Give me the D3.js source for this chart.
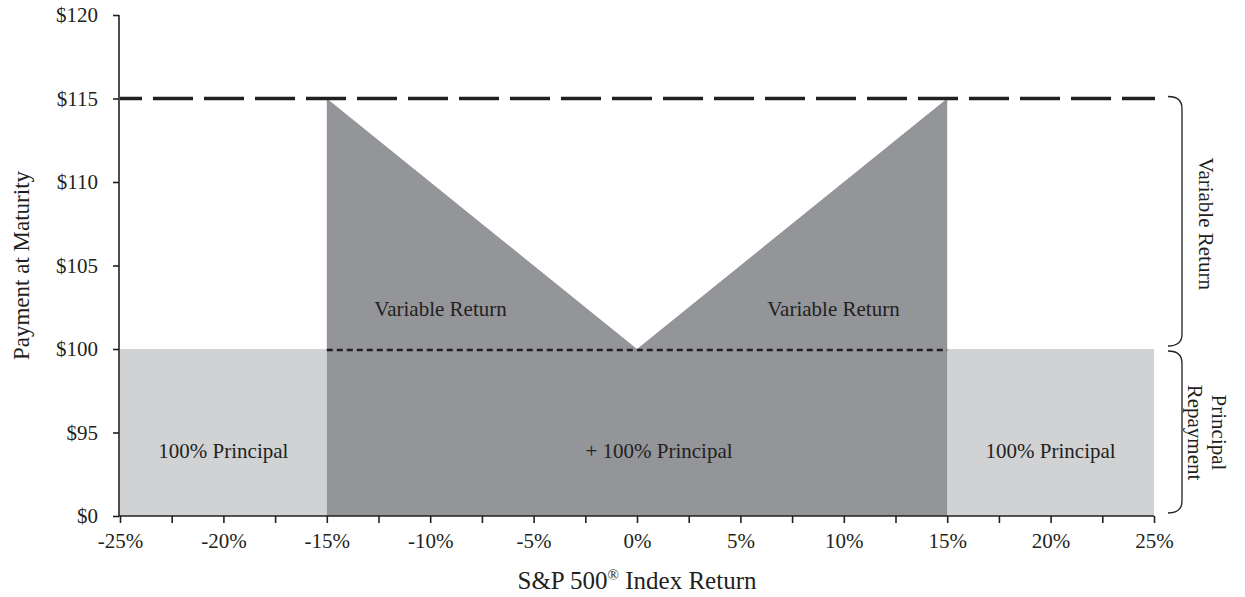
<!DOCTYPE html>
<html>
<head>
<meta charset="utf-8">
<script src="https://cdn.jsdelivr.net/npm/d3@7"></script>
<style>
  body { margin: 0; background: #fff; }
  text { font-family: "Liberation Serif", "Times New Roman", serif; fill: #231f20; }
</style>
</head>
<body>
<div id="chart"></div>
<script>
// chart values
var xLabelTicks = [-25, -20, -15, -10, -5, 0, 5, 10, 15, 20, 25]
var xMinorTicks = [-22.5, -17.5, -12.5, -7.5, -2.5, 2.5, 7.5, 12.5, 17.5, 22.5]
var yTickValues = [90, 95, 100, 105, 110, 115, 120]   // 90 stands for the broken $0 tick
var yTickLabels = ["$0", "$95", "$100", "$105", "$110", "$115", "$120"]
var principalLevel = 100
var capLevel = 115
var floorLevel = 90
// light grey principal-only zones
var principalZones = [
  { x0: -25, x1: -15, label: "100% Principal" },
  { x0: 15, x1: 25, label: "100% Principal" }
]
// payoff outline of the dark zone (index return, payment)
var payoffReturns = [-15, 0, 15]
var payoffValues = [115, 100, 115]
var varLabels = [{ x: -9.5, text: "Variable Return" }, { x: 9.5, text: "Variable Return" }]

var width = 1245
var height = 597
var mLeft = 120, mRight = 1154, mTop = 15, mBottom = 516
var fs = "21px"

var svg = d3.select("#chart")
  .append("svg")
    .attr("width", width)
    .attr("height", height)

var x = d3.scaleLinear().domain([-25, 25]).range([mLeft, mRight])
var y = d3.scaleLinear().domain([90, 120]).range([mBottom, mTop])

// light zones
svg.selectAll(".zone")
  .data(principalZones)
  .enter()
  .append("rect")
    .attr("x", function(d){ return x(d.x0) })
    .attr("width", function(d){ return x(d.x1) - x(d.x0) })
    .attr("y", y(principalLevel))
    .attr("height", y(floorLevel) - y(principalLevel))
    .style("fill", "#d1d2d4")

// dark V zone
var pts = payoffReturns.map(function(r, i){ return [x(r), y(payoffValues[i])] })
pts.push([x(payoffReturns[payoffReturns.length - 1]), y(floorLevel)])
pts.push([x(payoffReturns[0]), y(floorLevel)])
svg.append("path")
  .attr("d", d3.line()(pts) + "Z")
  .style("fill", "#939598")

// dashed lines
svg.append("line")
  .attr("x1", x(-25)).attr("x2", x(25) + 1)
  .attr("y1", y(capLevel)).attr("y2", y(capLevel))
  .attr("stroke", "#231f20")
  .attr("stroke-width", 3.5)
  .attr("stroke-dasharray", "40 11")
  .attr("stroke-dashoffset", 18)

svg.append("line")
  .attr("x1", x(-15)).attr("x2", x(15))
  .attr("y1", y(principalLevel) + 1).attr("y2", y(principalLevel) + 1)
  .attr("stroke", "#231f20")
  .attr("stroke-width", 2.5)
  .attr("stroke-dasharray", "6 4")

// zone labels
svg.selectAll(".plabel")
  .data(principalZones)
  .enter()
  .append("text")
    .attr("x", function(d){ return x((d.x0 + d.x1) / 2) })
    .attr("y", 458)
    .attr("text-anchor", "middle")
    .style("font-size", fs)
    .text(function(d){ return d.label })

svg.append("text")
  .attr("x", x(0) + 22)
  .attr("y", 458)
  .attr("text-anchor", "middle")
  .style("font-size", fs)
  .text("+ 100% Principal")

svg.selectAll(".vlabel")
  .data(varLabels)
  .enter()
  .append("text")
    .attr("x", function(d){ return x(d.x) })
    .attr("y", 316)
    .attr("text-anchor", "middle")
    .style("font-size", fs)
    .text(function(d){ return d.text })

// axes
var xAxis = svg.append("g")
  .attr("transform", "translate(0," + mBottom + ")")
  .call(d3.axisBottom(x).tickValues(xLabelTicks.concat(xMinorTicks)).tickSize(7)
    .tickFormat(function(d){ return xLabelTicks.indexOf(d) >= 0 ? d + "%" : "" }))
xAxis.select(".domain").attr("d", "M" + (mLeft - 1) + ",0H" + mRight)
xAxis.selectAll("text").style("font-size", fs).attr("y", 32).attr("dy", 0)

var yAxis = svg.append("g")
  .attr("transform", "translate(" + (mLeft - 1) + ",0)")
  .call(d3.axisLeft(y).tickValues(yTickValues).tickSize(6).tickPadding(15)
    .tickFormat(function(d, i){ return yTickLabels[i] }))
yAxis.select(".domain").attr("d", "M0," + mTop + "V" + mBottom)
yAxis.selectAll("text").style("font-size", fs)

svg.selectAll(".domain, .tick line").attr("stroke", "#231f20").attr("stroke-width", 1.6)

// axis titles
svg.append("text")
  .attr("x", x(0))
  .attr("y", 589)
  .attr("text-anchor", "middle")
  .style("font-size", "25px")
  .html('S&amp;P 500<tspan dy="-9" style="font-size:15px">®</tspan><tspan dy="9"> Index Return</tspan>')

svg.append("text")
  .attr("transform", "translate(29," + ((mTop + mBottom) / 2) + ") rotate(-90)")
  .attr("text-anchor", "middle")
  .style("font-size", "23px")
  .text("Payment at Maturity")

// right-hand braces
function brace(y0, y1) {
  var xa = 1168, xb = 1182, r = 12
  return "M" + xa + "," + y0 +
    "C" + (xa + 8) + "," + y0 + " " + xb + "," + (y0 + 3) + " " + xb + "," + (y0 + r) +
    "V" + (y1 - r) +
    "C" + xb + "," + (y1 - 3) + " " + (xa + 8) + "," + y1 + " " + xa + "," + y1
}
svg.append("path")
  .attr("d", brace(y(capLevel) - 2, y(principalLevel) - 3))
  .attr("fill", "none").attr("stroke", "#231f20").attr("stroke-width", 1.3)
svg.append("path")
  .attr("d", brace(y(principalLevel) + 2, y(floorLevel) - 3))
  .attr("fill", "none").attr("stroke", "#231f20").attr("stroke-width", 1.3)

svg.append("text")
  .attr("transform", "translate(1199," + ((y(capLevel) + y(principalLevel)) / 2) + ") rotate(90)")
  .attr("text-anchor", "middle")
  .style("font-size", fs)
  .text("Variable Return")

var pr = svg.append("text")
  .attr("transform", "translate(1200," + ((y(principalLevel) + y(floorLevel)) / 2) + ") rotate(90)")
  .attr("text-anchor", "middle")
  .style("font-size", fs)
pr.append("tspan").attr("x", 0).attr("dy", "-0.55em").text("Principal")
pr.append("tspan").attr("x", 0).attr("dy", "1.1em").text("Repayment")
</script>
</body>
</html>
